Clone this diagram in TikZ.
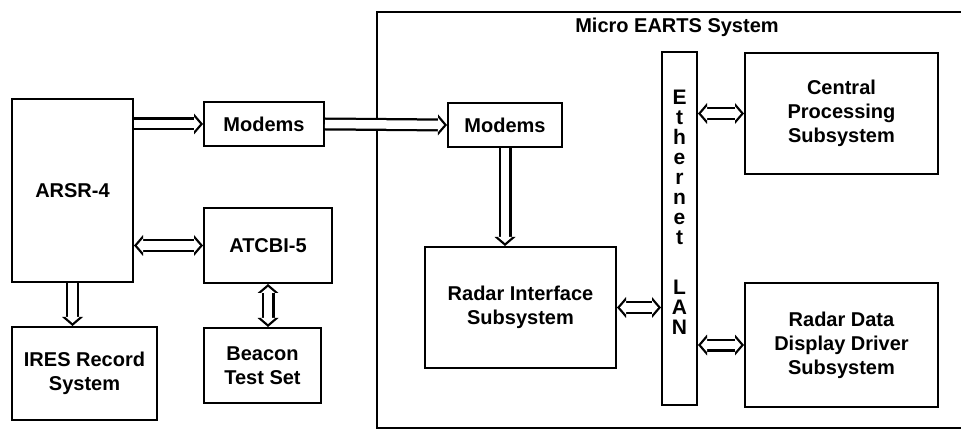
\documentclass[tikz,border=0pt]{standalone}
\usepackage{fontspec}
\setmainfont{Liberation Sans}
\usetikzlibrary{positioning,arrows.meta}
\tikzset{
        box/.style={draw, rectangle, line width=2pt, inner sep=2pt, align=center,
                    font=\fontsize{20}{24}\selectfont\bfseries},
        textlabel/.style={align=center, font=\fontsize{20}{24}\selectfont\bfseries},
        headout/.tip={Triangle[length=9pt, width=21pt, line width=0pt]},
        headin/.tip={Triangle[length=6pt, width=14pt, line width=0pt]},
        pipe/.style={line width=13pt, -{headout},
                     postaction={draw=white, line width=8.5pt, -{headin}, shorten >=3pt}},
        pipes/.style={line width=13pt, {headout}-{headout},
                     postaction={draw=white, line width=8.5pt, {headin}-{headin}, shorten >=3pt, shorten <=3pt}},
    }
\begin{document}
\begin{tikzpicture}[x=1pt, y=-1pt, node distance=107pt and 40pt]

        \useasboundingbox (0,0) rectangle (961,430);

        % Micro EARTS frame
        \draw[line width=2pt] (1000,12) -- (377,12) -- (377,428) -- (1000,428);
        \node[textlabel] (earts) at (677,27) {Micro EARTS System};

        % Left side boxes
        \node[box, minimum width=121pt, minimum height=183pt] (arsr) at (72.5,190.5) {ARSR-4};
        \node[box, minimum width=120pt, minimum height=44pt] (modemsa) at (264,124) {Modems};
        \node[box, minimum width=128pt, minimum height=75pt] (atcbi) at (268,245.5) {ATCBI-5};
        \node[box, minimum width=145pt, minimum height=93pt] (ires) at (84.5,373.5) {IRES Record\\System};
        \node[box, minimum width=117pt, minimum height=75pt] (beacon) at (262.5,365.5) {Beacon\\Test Set};

        % Micro EARTS boxes
        \node[box, minimum width=114pt, minimum height=44pt] (modemsb) at (505,125) {Modems};
        \node[box, minimum width=191pt, minimum height=121pt] (ris) at (520.5,307.5) {Radar Interface\\Subsystem};
        \node[draw, line width=2pt, minimum width=35pt, minimum height=353pt] (lan) at (679.5,228.5) {};
        \node[textlabel, font=\fontsize{21}{20}\selectfont\bfseries] (lantext) at (679.5,212)
            {E\\t\\h\\e\\r\\n\\e\\t\\[30pt]L\\A\\N};
        \node[box, minimum width=193pt, minimum height=121pt] (cps) at (841.5,113.5) {Central\\Processing\\Subsystem};
        \node[box, minimum width=193pt, minimum height=124pt, below=of cps] (rddds) {Radar Data\\Display Driver\\Subsystem};

        % Data paths
        \draw[pipe] (arsr.east |- modemsa.west) -- (modemsa.west);
        \draw[pipe] (modemsa.east) -- (modemsb.west);
        \draw[pipes] (arsr.east |- atcbi.west) -- (atcbi.west);
        \draw[pipe] (arsr.south) -- (arsr.south |- ires.north);
        \draw[pipes] (atcbi.south) -- (atcbi.south |- beacon.north);
        \draw[pipe] (modemsb.south) -- (modemsb.south |- ris.north);
        \draw[pipes] (ris.east) -- (ris.east -| lan.west);
        \draw[pipes] (lan.east |- cps.west) -- (cps.west);
        \draw[pipes] (lan.east |- rddds.west) -- (rddds.west);

    \end{tikzpicture}
\end{document}
